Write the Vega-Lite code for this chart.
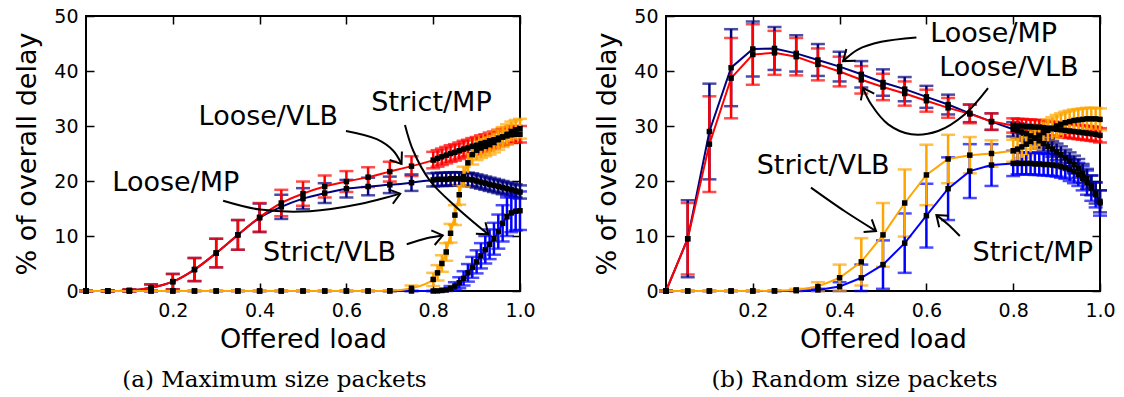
{
  "$schema": "https://vega.github.io/schema/vega-lite/v6.json",
  "background": "white",
  "padding": {"left": 12, "top": 6, "right": 5, "bottom": 5},
  "spacing": 55,
  "config": {
    "view": {"stroke": "black", "strokeWidth": 2},
    "font": "DejaVu Sans",
    "axis": {"grid": false, "domain": false, "tickColor": "black", "tickWidth": 1.5, "labelColor": "black", "titleColor": "black", "labelFont": "DejaVu Sans", "labelFontSize": 19, "titleFont": "DejaVu Sans", "titleFontSize": 27, "titleFontWeight": "normal", "labelFlush": false}
  },
  "datasets": {
    "a": [
      {"s":"Strict/MP","x":0,"y":0,"e":0},{"s":"Strict/MP","x":0.05,"y":0,"e":0},{"s":"Strict/MP","x":0.1,"y":0,"e":0},{"s":"Strict/MP","x":0.15,"y":0,"e":0},{"s":"Strict/MP","x":0.2,"y":0,"e":0},{"s":"Strict/MP","x":0.25,"y":0,"e":0},{"s":"Strict/MP","x":0.3,"y":0,"e":0},{"s":"Strict/MP","x":0.35,"y":0,"e":0},{"s":"Strict/MP","x":0.4,"y":0,"e":0},{"s":"Strict/MP","x":0.45,"y":0,"e":0},{"s":"Strict/MP","x":0.5,"y":0,"e":0},{"s":"Strict/MP","x":0.55,"y":0,"e":0},{"s":"Strict/MP","x":0.6,"y":0,"e":0},{"s":"Strict/MP","x":0.65,"y":0,"e":0},{"s":"Strict/MP","x":0.7,"y":0,"e":0},{"s":"Strict/MP","x":0.75,"y":0,"e":0},{"s":"Strict/MP","x":0.8,"y":0,"e":0},{"s":"Strict/MP","x":0.81,"y":0.02,"e":0.05},{"s":"Strict/MP","x":0.82,"y":0.1,"e":0.1},{"s":"Strict/MP","x":0.83,"y":0.2,"e":0.2},{"s":"Strict/MP","x":0.84,"y":0.5,"e":0.4},{"s":"Strict/MP","x":0.85,"y":0.9,"e":0.7},{"s":"Strict/MP","x":0.86,"y":1.5,"e":1.0},{"s":"Strict/MP","x":0.87,"y":2.3,"e":1.3},{"s":"Strict/MP","x":0.88,"y":3.3,"e":1.6},{"s":"Strict/MP","x":0.89,"y":4.3,"e":1.9},{"s":"Strict/MP","x":0.9,"y":5.3,"e":2.1},{"s":"Strict/MP","x":0.91,"y":6.4,"e":2.3},{"s":"Strict/MP","x":0.92,"y":7.5,"e":2.5},{"s":"Strict/MP","x":0.93,"y":8.5,"e":2.7},{"s":"Strict/MP","x":0.94,"y":9.5,"e":2.9},{"s":"Strict/MP","x":0.95,"y":10.8,"e":3.1},{"s":"Strict/MP","x":0.96,"y":12.3,"e":3.3},{"s":"Strict/MP","x":0.97,"y":13.5,"e":3.5},{"s":"Strict/MP","x":0.98,"y":14.2,"e":3.5},{"s":"Strict/MP","x":0.99,"y":14.5,"e":3.5},{"s":"Strict/MP","x":1,"y":14.6,"e":3.5},
      {"s":"Loose/MP","x":0,"y":0,"e":0},{"s":"Loose/MP","x":0.05,"y":0,"e":0.1},{"s":"Loose/MP","x":0.1,"y":0.1,"e":0.2},{"s":"Loose/MP","x":0.15,"y":0.6,"e":0.6},{"s":"Loose/MP","x":0.2,"y":1.7,"e":1.4},{"s":"Loose/MP","x":0.25,"y":3.9,"e":2.1},{"s":"Loose/MP","x":0.3,"y":6.9,"e":2.6},{"s":"Loose/MP","x":0.35,"y":10.2,"e":2.7},{"s":"Loose/MP","x":0.4,"y":13.3,"e":2.6},{"s":"Loose/MP","x":0.45,"y":15.3,"e":2.2},{"s":"Loose/MP","x":0.5,"y":16.8,"e":1.9},{"s":"Loose/MP","x":0.55,"y":17.8,"e":1.8},{"s":"Loose/MP","x":0.6,"y":18.6,"e":1.6},{"s":"Loose/MP","x":0.65,"y":19.0,"e":1.6},{"s":"Loose/MP","x":0.7,"y":19.3,"e":1.5},{"s":"Loose/MP","x":0.75,"y":19.7,"e":1.5},{"s":"Loose/MP","x":0.8,"y":20.2,"e":1.2},{"s":"Loose/MP","x":0.81,"y":20.3,"e":1.2},{"s":"Loose/MP","x":0.82,"y":20.3,"e":1.2},{"s":"Loose/MP","x":0.83,"y":20.3,"e":1.2},{"s":"Loose/MP","x":0.84,"y":20.4,"e":1.2},{"s":"Loose/MP","x":0.85,"y":20.4,"e":1.2},{"s":"Loose/MP","x":0.86,"y":20.4,"e":1.2},{"s":"Loose/MP","x":0.87,"y":20.3,"e":1.2},{"s":"Loose/MP","x":0.88,"y":20.3,"e":1.2},{"s":"Loose/MP","x":0.89,"y":20.2,"e":1.2},{"s":"Loose/MP","x":0.9,"y":20.0,"e":1.2},{"s":"Loose/MP","x":0.91,"y":19.8,"e":1.2},{"s":"Loose/MP","x":0.92,"y":19.6,"e":1.2},{"s":"Loose/MP","x":0.93,"y":19.4,"e":1.2},{"s":"Loose/MP","x":0.94,"y":19.2,"e":1.2},{"s":"Loose/MP","x":0.95,"y":19.0,"e":1.2},{"s":"Loose/MP","x":0.96,"y":18.8,"e":1.2},{"s":"Loose/MP","x":0.97,"y":18.6,"e":1.2},{"s":"Loose/MP","x":0.98,"y":18.4,"e":1.2},{"s":"Loose/MP","x":0.99,"y":18.2,"e":1.2},{"s":"Loose/MP","x":1,"y":18.0,"e":1.2},
      {"s":"Loose/VLB","x":0,"y":0,"e":0},{"s":"Loose/VLB","x":0.05,"y":0,"e":0.1},{"s":"Loose/VLB","x":0.1,"y":0.1,"e":0.2},{"s":"Loose/VLB","x":0.15,"y":0.6,"e":0.6},{"s":"Loose/VLB","x":0.2,"y":1.7,"e":1.4},{"s":"Loose/VLB","x":0.25,"y":3.9,"e":2.1},{"s":"Loose/VLB","x":0.3,"y":6.9,"e":2.6},{"s":"Loose/VLB","x":0.35,"y":10.2,"e":2.7},{"s":"Loose/VLB","x":0.4,"y":13.4,"e":2.6},{"s":"Loose/VLB","x":0.45,"y":16.0,"e":2.4},{"s":"Loose/VLB","x":0.5,"y":17.7,"e":2.2},{"s":"Loose/VLB","x":0.55,"y":19.0,"e":2.0},{"s":"Loose/VLB","x":0.6,"y":19.9,"e":1.9},{"s":"Loose/VLB","x":0.65,"y":20.7,"e":1.8},{"s":"Loose/VLB","x":0.7,"y":21.7,"e":1.8},{"s":"Loose/VLB","x":0.75,"y":22.7,"e":1.8},{"s":"Loose/VLB","x":0.8,"y":23.8,"e":1.5},{"s":"Loose/VLB","x":0.81,"y":24.1,"e":1.5},{"s":"Loose/VLB","x":0.82,"y":24.4,"e":1.5},{"s":"Loose/VLB","x":0.83,"y":24.7,"e":1.5},{"s":"Loose/VLB","x":0.84,"y":25.0,"e":1.5},{"s":"Loose/VLB","x":0.85,"y":25.2,"e":1.5},{"s":"Loose/VLB","x":0.86,"y":25.5,"e":1.5},{"s":"Loose/VLB","x":0.87,"y":25.8,"e":1.5},{"s":"Loose/VLB","x":0.88,"y":26.0,"e":1.5},{"s":"Loose/VLB","x":0.89,"y":26.3,"e":1.5},{"s":"Loose/VLB","x":0.9,"y":26.5,"e":1.5},{"s":"Loose/VLB","x":0.91,"y":26.8,"e":1.5},{"s":"Loose/VLB","x":0.92,"y":27.0,"e":1.5},{"s":"Loose/VLB","x":0.93,"y":27.3,"e":1.5},{"s":"Loose/VLB","x":0.94,"y":27.5,"e":1.5},{"s":"Loose/VLB","x":0.95,"y":27.8,"e":1.5},{"s":"Loose/VLB","x":0.96,"y":28.0,"e":1.5},{"s":"Loose/VLB","x":0.97,"y":28.2,"e":1.5},{"s":"Loose/VLB","x":0.98,"y":28.4,"e":1.5},{"s":"Loose/VLB","x":0.99,"y":28.5,"e":1.5},{"s":"Loose/VLB","x":1,"y":28.5,"e":1.5},
      {"s":"Strict/VLB","x":0,"y":0,"e":0},{"s":"Strict/VLB","x":0.05,"y":0,"e":0},{"s":"Strict/VLB","x":0.1,"y":0,"e":0},{"s":"Strict/VLB","x":0.15,"y":0,"e":0},{"s":"Strict/VLB","x":0.2,"y":0,"e":0},{"s":"Strict/VLB","x":0.25,"y":0,"e":0},{"s":"Strict/VLB","x":0.3,"y":0,"e":0},{"s":"Strict/VLB","x":0.35,"y":0,"e":0},{"s":"Strict/VLB","x":0.4,"y":0,"e":0},{"s":"Strict/VLB","x":0.45,"y":0,"e":0},{"s":"Strict/VLB","x":0.5,"y":0,"e":0},{"s":"Strict/VLB","x":0.55,"y":0,"e":0},{"s":"Strict/VLB","x":0.6,"y":0,"e":0},{"s":"Strict/VLB","x":0.65,"y":0,"e":0},{"s":"Strict/VLB","x":0.7,"y":0.05,"e":0.1},{"s":"Strict/VLB","x":0.75,"y":0.5,"e":0.5},{"s":"Strict/VLB","x":0.8,"y":2.1,"e":1.2},{"s":"Strict/VLB","x":0.81,"y":3.3,"e":1.4},{"s":"Strict/VLB","x":0.82,"y":5.0,"e":1.5},{"s":"Strict/VLB","x":0.83,"y":7.1,"e":1.6},{"s":"Strict/VLB","x":0.84,"y":10.5,"e":1.7},{"s":"Strict/VLB","x":0.85,"y":13.8,"e":1.8},{"s":"Strict/VLB","x":0.86,"y":17.5,"e":1.8},{"s":"Strict/VLB","x":0.87,"y":20.8,"e":1.8},{"s":"Strict/VLB","x":0.88,"y":23.3,"e":1.8},{"s":"Strict/VLB","x":0.89,"y":24.8,"e":1.8},{"s":"Strict/VLB","x":0.9,"y":25.6,"e":1.8},{"s":"Strict/VLB","x":0.91,"y":26.0,"e":1.8},{"s":"Strict/VLB","x":0.92,"y":26.3,"e":1.8},{"s":"Strict/VLB","x":0.93,"y":26.6,"e":1.8},{"s":"Strict/VLB","x":0.94,"y":27.0,"e":1.8},{"s":"Strict/VLB","x":0.95,"y":27.5,"e":1.8},{"s":"Strict/VLB","x":0.96,"y":28.0,"e":1.8},{"s":"Strict/VLB","x":0.97,"y":28.5,"e":1.8},{"s":"Strict/VLB","x":0.98,"y":29.0,"e":1.8},{"s":"Strict/VLB","x":0.99,"y":29.3,"e":1.8},{"s":"Strict/VLB","x":1,"y":29.5,"e":1.8}
    ],
    "b": [
      {"s":"Strict/MP","x":0,"y":0,"e":0},{"s":"Strict/MP","x":0.05,"y":0,"e":0},{"s":"Strict/MP","x":0.1,"y":0,"e":0},{"s":"Strict/MP","x":0.15,"y":0,"e":0},{"s":"Strict/MP","x":0.2,"y":0,"e":0},{"s":"Strict/MP","x":0.25,"y":0,"e":0},{"s":"Strict/MP","x":0.3,"y":0.05,"e":0.05},{"s":"Strict/MP","x":0.35,"y":0.2,"e":0.2},{"s":"Strict/MP","x":0.4,"y":0.8,"e":0.8},{"s":"Strict/MP","x":0.45,"y":2.4,"e":2.4},{"s":"Strict/MP","x":0.5,"y":4.8,"e":4.4},{"s":"Strict/MP","x":0.55,"y":8.7,"e":5.4},{"s":"Strict/MP","x":0.6,"y":13.7,"e":5.8},{"s":"Strict/MP","x":0.65,"y":18.6,"e":5.7},{"s":"Strict/MP","x":0.7,"y":21.8,"e":4.9},{"s":"Strict/MP","x":0.75,"y":22.9,"e":3.8},{"s":"Strict/MP","x":0.8,"y":23.2,"e":2.3},{"s":"Strict/MP","x":0.81,"y":23.2,"e":2.0},{"s":"Strict/MP","x":0.82,"y":23.2,"e":2.0},{"s":"Strict/MP","x":0.83,"y":23.2,"e":2.0},{"s":"Strict/MP","x":0.84,"y":23.2,"e":2.0},{"s":"Strict/MP","x":0.85,"y":23.1,"e":2.0},{"s":"Strict/MP","x":0.86,"y":23.1,"e":2.0},{"s":"Strict/MP","x":0.87,"y":23.0,"e":2.0},{"s":"Strict/MP","x":0.88,"y":23.0,"e":2.0},{"s":"Strict/MP","x":0.89,"y":22.9,"e":2.0},{"s":"Strict/MP","x":0.9,"y":22.8,"e":2.0},{"s":"Strict/MP","x":0.91,"y":22.6,"e":2.0},{"s":"Strict/MP","x":0.92,"y":22.4,"e":2.0},{"s":"Strict/MP","x":0.93,"y":22.1,"e":2.1},{"s":"Strict/MP","x":0.94,"y":21.7,"e":2.1},{"s":"Strict/MP","x":0.95,"y":21.2,"e":2.1},{"s":"Strict/MP","x":0.96,"y":20.5,"e":2.2},{"s":"Strict/MP","x":0.97,"y":19.7,"e":2.2},{"s":"Strict/MP","x":0.98,"y":18.7,"e":2.3},{"s":"Strict/MP","x":0.99,"y":17.5,"e":2.3},{"s":"Strict/MP","x":1,"y":16.0,"e":2.3},
      {"s":"Loose/MP","x":0,"y":0,"e":0},{"s":"Loose/MP","x":0.05,"y":9.5,"e":7.0},{"s":"Loose/MP","x":0.1,"y":29.0,"e":8.7},{"s":"Loose/MP","x":0.15,"y":40.6,"e":7.0},{"s":"Loose/MP","x":0.2,"y":44.0,"e":5.0},{"s":"Loose/MP","x":0.25,"y":44.1,"e":3.9},{"s":"Loose/MP","x":0.3,"y":43.2,"e":3.3},{"s":"Loose/MP","x":0.35,"y":42.0,"e":2.9},{"s":"Loose/MP","x":0.4,"y":40.8,"e":2.7},{"s":"Loose/MP","x":0.45,"y":39.4,"e":2.4},{"s":"Loose/MP","x":0.5,"y":37.9,"e":2.4},{"s":"Loose/MP","x":0.55,"y":36.7,"e":2.2},{"s":"Loose/MP","x":0.6,"y":35.3,"e":2.0},{"s":"Loose/MP","x":0.65,"y":33.9,"e":1.8},{"s":"Loose/MP","x":0.7,"y":32.3,"e":1.6},{"s":"Loose/MP","x":0.75,"y":30.8,"e":1.5},{"s":"Loose/MP","x":0.8,"y":29.4,"e":1.3},{"s":"Loose/MP","x":0.81,"y":29.2,"e":1.3},{"s":"Loose/MP","x":0.82,"y":28.9,"e":1.3},{"s":"Loose/MP","x":0.83,"y":28.6,"e":1.3},{"s":"Loose/MP","x":0.84,"y":28.2,"e":1.3},{"s":"Loose/MP","x":0.85,"y":27.8,"e":1.3},{"s":"Loose/MP","x":0.86,"y":27.3,"e":1.4},{"s":"Loose/MP","x":0.87,"y":26.8,"e":1.4},{"s":"Loose/MP","x":0.88,"y":26.3,"e":1.4},{"s":"Loose/MP","x":0.89,"y":25.8,"e":1.4},{"s":"Loose/MP","x":0.9,"y":25.3,"e":1.5},{"s":"Loose/MP","x":0.91,"y":24.8,"e":1.5},{"s":"Loose/MP","x":0.92,"y":24.2,"e":1.5},{"s":"Loose/MP","x":0.93,"y":23.6,"e":1.6},{"s":"Loose/MP","x":0.94,"y":23.0,"e":1.6},{"s":"Loose/MP","x":0.95,"y":22.3,"e":1.7},{"s":"Loose/MP","x":0.96,"y":21.4,"e":1.7},{"s":"Loose/MP","x":0.97,"y":20.4,"e":1.8},{"s":"Loose/MP","x":0.98,"y":19.2,"e":1.8},{"s":"Loose/MP","x":0.99,"y":17.8,"e":1.9},{"s":"Loose/MP","x":1,"y":16.3,"e":2.0},
      {"s":"Loose/VLB","x":0,"y":0,"e":0},{"s":"Loose/VLB","x":0.05,"y":9.5,"e":6.5},{"s":"Loose/VLB","x":0.1,"y":26.7,"e":8.7},{"s":"Loose/VLB","x":0.15,"y":38.7,"e":7.3},{"s":"Loose/VLB","x":0.2,"y":43.0,"e":5.5},{"s":"Loose/VLB","x":0.25,"y":43.3,"e":4.0},{"s":"Loose/VLB","x":0.3,"y":42.6,"e":3.4},{"s":"Loose/VLB","x":0.35,"y":41.2,"e":2.9},{"s":"Loose/VLB","x":0.4,"y":39.9,"e":2.7},{"s":"Loose/VLB","x":0.45,"y":38.4,"e":2.5},{"s":"Loose/VLB","x":0.5,"y":37.1,"e":2.4},{"s":"Loose/VLB","x":0.55,"y":35.9,"e":2.2},{"s":"Loose/VLB","x":0.6,"y":34.6,"e":2.0},{"s":"Loose/VLB","x":0.65,"y":33.3,"e":1.8},{"s":"Loose/VLB","x":0.7,"y":32.2,"e":1.7},{"s":"Loose/VLB","x":0.75,"y":30.8,"e":1.5},{"s":"Loose/VLB","x":0.8,"y":30.1,"e":1.3},{"s":"Loose/VLB","x":0.81,"y":30.0,"e":1.3},{"s":"Loose/VLB","x":0.82,"y":30.0,"e":1.3},{"s":"Loose/VLB","x":0.83,"y":29.9,"e":1.3},{"s":"Loose/VLB","x":0.84,"y":29.9,"e":1.3},{"s":"Loose/VLB","x":0.85,"y":29.8,"e":1.3},{"s":"Loose/VLB","x":0.86,"y":29.8,"e":1.3},{"s":"Loose/VLB","x":0.87,"y":29.7,"e":1.3},{"s":"Loose/VLB","x":0.88,"y":29.6,"e":1.3},{"s":"Loose/VLB","x":0.89,"y":29.5,"e":1.3},{"s":"Loose/VLB","x":0.9,"y":29.4,"e":1.3},{"s":"Loose/VLB","x":0.91,"y":29.3,"e":1.3},{"s":"Loose/VLB","x":0.92,"y":29.2,"e":1.3},{"s":"Loose/VLB","x":0.93,"y":29.1,"e":1.3},{"s":"Loose/VLB","x":0.94,"y":29.0,"e":1.3},{"s":"Loose/VLB","x":0.95,"y":28.9,"e":1.3},{"s":"Loose/VLB","x":0.96,"y":28.8,"e":1.3},{"s":"Loose/VLB","x":0.97,"y":28.7,"e":1.3},{"s":"Loose/VLB","x":0.98,"y":28.6,"e":1.3},{"s":"Loose/VLB","x":0.99,"y":28.5,"e":1.3},{"s":"Loose/VLB","x":1,"y":28.3,"e":1.3},
      {"s":"Strict/VLB","x":0,"y":0,"e":0},{"s":"Strict/VLB","x":0.05,"y":0,"e":0},{"s":"Strict/VLB","x":0.1,"y":0,"e":0},{"s":"Strict/VLB","x":0.15,"y":0,"e":0},{"s":"Strict/VLB","x":0.2,"y":0,"e":0},{"s":"Strict/VLB","x":0.25,"y":0.05,"e":0.05},{"s":"Strict/VLB","x":0.3,"y":0.2,"e":0.2},{"s":"Strict/VLB","x":0.35,"y":0.8,"e":0.8},{"s":"Strict/VLB","x":0.4,"y":2.4,"e":2.4},{"s":"Strict/VLB","x":0.45,"y":5.3,"e":4.3},{"s":"Strict/VLB","x":0.5,"y":10.2,"e":5.8},{"s":"Strict/VLB","x":0.55,"y":16.0,"e":6.1},{"s":"Strict/VLB","x":0.6,"y":21.1,"e":5.5},{"s":"Strict/VLB","x":0.65,"y":24.0,"e":4.4},{"s":"Strict/VLB","x":0.7,"y":24.7,"e":3.3},{"s":"Strict/VLB","x":0.75,"y":25.0,"e":2.4},{"s":"Strict/VLB","x":0.8,"y":25.5,"e":2.0},{"s":"Strict/VLB","x":0.81,"y":25.8,"e":2.0},{"s":"Strict/VLB","x":0.82,"y":26.2,"e":2.0},{"s":"Strict/VLB","x":0.83,"y":26.7,"e":2.0},{"s":"Strict/VLB","x":0.84,"y":27.2,"e":2.0},{"s":"Strict/VLB","x":0.85,"y":27.8,"e":2.0},{"s":"Strict/VLB","x":0.86,"y":28.3,"e":2.0},{"s":"Strict/VLB","x":0.87,"y":28.8,"e":2.0},{"s":"Strict/VLB","x":0.88,"y":29.2,"e":2.0},{"s":"Strict/VLB","x":0.89,"y":29.6,"e":2.0},{"s":"Strict/VLB","x":0.9,"y":30.0,"e":2.0},{"s":"Strict/VLB","x":0.91,"y":30.3,"e":2.0},{"s":"Strict/VLB","x":0.92,"y":30.6,"e":2.0},{"s":"Strict/VLB","x":0.93,"y":30.8,"e":2.0},{"s":"Strict/VLB","x":0.94,"y":31.0,"e":2.0},{"s":"Strict/VLB","x":0.95,"y":31.1,"e":2.0},{"s":"Strict/VLB","x":0.96,"y":31.2,"e":2.0},{"s":"Strict/VLB","x":0.97,"y":31.3,"e":2.0},{"s":"Strict/VLB","x":0.98,"y":31.3,"e":2.0},{"s":"Strict/VLB","x":0.99,"y":31.3,"e":2.0},{"s":"Strict/VLB","x":1,"y":31.2,"e":2.0}
    ],
    "txtA": [
      {"t":"Loose/VLB","x":0.42,"y":31.6},{"t":"Loose/MP","x":0.207,"y":19.7},{"t":"Strict/MP","x":0.796,"y":34.2},{"t":"Strict/VLB","x":0.561,"y":6.85}
    ],
    "txtB": [
      {"t":"Loose/MP","x":0.755,"y":46.7},{"t":"Loose/VLB","x":0.79,"y":40.6},{"t":"Strict/VLB","x":0.362,"y":22.7},{"t":"Strict/MP","x":0.845,"y":6.85}
    ],
    "arrA": [
      {"id":"1","i":0,"x":0.599,"y":29.1},{"id":"1","i":1,"x":0.67,"y":27.6},{"id":"1","i":2,"x":0.708,"y":25.5},{"id":"1","i":3,"x":0.727,"y":23.1},
      {"id":"2","i":0,"x":0.316,"y":16.4},{"id":"2","i":1,"x":0.401,"y":14.8},{"id":"2","i":2,"x":0.516,"y":14.5},{"id":"2","i":3,"x":0.631,"y":15.8},{"id":"2","i":4,"x":0.724,"y":17.7},
      {"id":"3","i":0,"x":0.735,"y":30.2},{"id":"3","i":1,"x":0.754,"y":25.5},{"id":"3","i":2,"x":0.793,"y":20.0},{"id":"3","i":3,"x":0.854,"y":15.2},{"id":"3","i":4,"x":0.927,"y":10.3},
      {"id":"4","i":0,"x":0.739,"y":8.5},{"id":"4","i":1,"x":0.785,"y":9.6},{"id":"4","i":2,"x":0.822,"y":10.1}
    ],
    "headA": [
      {"x":0.727,"y":23.1,"a":55},{"x":0.724,"y":17.7,"a":-17},{"x":0.927,"y":10.3,"a":40},{"x":0.822,"y":10.1,"a":-13}
    ],
    "arrB": [
      {"id":"1","i":0,"x":0.577,"y":46.1},{"id":"1","i":1,"x":0.496,"y":45.3},{"id":"1","i":2,"x":0.442,"y":43.9},{"id":"1","i":3,"x":0.408,"y":41.8},
      {"id":"2","i":0,"x":0.742,"y":36.9},{"id":"2","i":1,"x":0.688,"y":32.1},{"id":"2","i":2,"x":0.627,"y":29.1},{"id":"2","i":3,"x":0.565,"y":28.5},{"id":"2","i":4,"x":0.512,"y":30.3},{"id":"2","i":5,"x":0.473,"y":33.9},{"id":"2","i":6,"x":0.454,"y":36.9},
      {"id":"3","i":0,"x":0.334,"y":18.8},{"id":"3","i":1,"x":0.412,"y":14.5},{"id":"3","i":2,"x":0.484,"y":10.9},
      {"id":"4","i":0,"x":0.677,"y":10.0},{"id":"4","i":1,"x":0.65,"y":12.1},{"id":"4","i":2,"x":0.623,"y":13.8}
    ],
    "headB": [
      {"x":0.408,"y":41.8,"a":142},{"x":0.454,"y":36.9,"a":-117},{"x":0.484,"y":10.9,"a":33},{"x":0.623,"y":13.8,"a":-140}
    ]
  },
  "hconcat": [
    {
      "width": 434, "height": 275,
      "title": {"text": "(a) Maximum size packets", "orient": "bottom", "font": "DejaVu Serif", "fontSize": 23, "fontWeight": "normal", "anchor": "middle", "frame": "bounds", "offset": 17, "color": "black"},
      "layer": [
        {"data": {"name": "a"}, "mark": {"type": "errorbar", "ticks": true, "thickness": 2.5, "size": 14},
         "encoding": {
           "x": {"field": "x", "type": "quantitative", "scale": {"domain": [0, 1], "nice": false}, "axis": {"orient": "bottom", "title": "Offered load", "values": [0.2, 0.4, 0.6, 0.8, 1.0], "format": ".1f", "tickSize": -8, "labelPadding": 18, "titlePadding": 6}},
           "y": {"field": "y", "type": "quantitative", "scale": {"domain": [0, 50], "nice": false}, "axis": {"orient": "left", "title": "% of overall delay", "values": [0, 10, 20, 30, 40, 50], "tickSize": -8, "labelPadding": 16, "titlePadding": 12}},
           "yError": {"field": "e"},
           "color": {"field": "s", "type": "nominal", "scale": {"domain": ["Loose/MP", "Loose/VLB", "Strict/MP", "Strict/VLB"], "range": ["#000080", "#ff0000", "#0000ff", "#ffa500"]}, "legend": null}
         }},
        {"data": {"name": "a"}, "mark": {"type": "line", "strokeWidth": 2, "interpolate": "monotone"},
         "encoding": {
           "x": {"field": "x", "type": "quantitative", "axis": null},
           "y": {"field": "y", "type": "quantitative", "axis": null},
           "color": {"field": "s", "type": "nominal", "legend": null}
         }},
        {"data": {"name": "a"}, "mark": {"type": "square", "size": 30, "color": "black", "opacity": 1},
         "encoding": {
           "x": {"field": "x", "type": "quantitative", "axis": null},
           "y": {"field": "y", "type": "quantitative", "axis": null}
         }},
        {"data": {"name": "arrA"}, "mark": {"type": "line", "color": "black", "strokeWidth": 2, "interpolate": "catmull-rom"},
         "encoding": {
           "x": {"field": "x", "type": "quantitative", "axis": {"orient": "top", "labels": false, "title": null, "values": [0.2, 0.4, 0.6, 0.8, 1.0], "tickSize": -8}},
           "y": {"field": "y", "type": "quantitative", "axis": {"orient": "right", "labels": false, "title": null, "values": [0, 10, 20, 30, 40, 50], "tickSize": -8}},
           "detail": {"field": "id"},
           "order": {"field": "i", "type": "quantitative"}
         }},
        {"data": {"name": "headA"}, "mark": {"type": "point", "shape": "M-1,-0.75L0,0L-1,0.75", "filled": false, "stroke": "black", "strokeWidth": 2, "size": 400, "opacity": 1},
         "encoding": {
           "x": {"field": "x", "type": "quantitative", "axis": null},
           "y": {"field": "y", "type": "quantitative", "axis": null},
           "angle": {"field": "a", "type": "quantitative", "scale": null}
         }},
        {"data": {"name": "txtA"}, "mark": {"type": "text", "fontSize": 27, "font": "DejaVu Sans", "color": "black"},
         "encoding": {
           "x": {"field": "x", "type": "quantitative", "axis": null},
           "y": {"field": "y", "type": "quantitative", "axis": null},
           "text": {"field": "t"}
         }}
      ]
    },
    {
      "width": 434, "height": 275,
      "title": {"text": "(b) Random size packets", "orient": "bottom", "font": "DejaVu Serif", "fontSize": 23, "fontWeight": "normal", "anchor": "middle", "frame": "bounds", "offset": 17, "color": "black"},
      "layer": [
        {"data": {"name": "b"}, "mark": {"type": "errorbar", "ticks": true, "thickness": 2.5, "size": 14},
         "encoding": {
           "x": {"field": "x", "type": "quantitative", "scale": {"domain": [0, 1], "nice": false}, "axis": {"orient": "bottom", "title": "Offered load", "values": [0.2, 0.4, 0.6, 0.8, 1.0], "format": ".1f", "tickSize": -8, "labelPadding": 18, "titlePadding": 6}},
           "y": {"field": "y", "type": "quantitative", "scale": {"domain": [0, 50], "nice": false}, "axis": {"orient": "left", "title": "% of overall delay", "values": [0, 10, 20, 30, 40, 50], "tickSize": -8, "labelPadding": 16, "titlePadding": 12}},
           "yError": {"field": "e"},
           "color": {"field": "s", "type": "nominal", "scale": {"domain": ["Loose/MP", "Loose/VLB", "Strict/MP", "Strict/VLB"], "range": ["#000080", "#ff0000", "#0000ff", "#ffa500"]}, "legend": null}
         }},
        {"data": {"name": "b"}, "mark": {"type": "line", "strokeWidth": 2, "interpolate": "linear"},
         "encoding": {
           "x": {"field": "x", "type": "quantitative", "axis": null},
           "y": {"field": "y", "type": "quantitative", "axis": null},
           "color": {"field": "s", "type": "nominal", "legend": null}
         }},
        {"data": {"name": "b"}, "mark": {"type": "square", "size": 30, "color": "black", "opacity": 1},
         "encoding": {
           "x": {"field": "x", "type": "quantitative", "axis": null},
           "y": {"field": "y", "type": "quantitative", "axis": null}
         }},
        {"data": {"name": "arrB"}, "mark": {"type": "line", "color": "black", "strokeWidth": 2, "interpolate": "catmull-rom"},
         "encoding": {
           "x": {"field": "x", "type": "quantitative", "axis": {"orient": "top", "labels": false, "title": null, "values": [0.2, 0.4, 0.6, 0.8, 1.0], "tickSize": -8}},
           "y": {"field": "y", "type": "quantitative", "axis": {"orient": "right", "labels": false, "title": null, "values": [0, 10, 20, 30, 40, 50], "tickSize": -8}},
           "detail": {"field": "id"},
           "order": {"field": "i", "type": "quantitative"}
         }},
        {"data": {"name": "headB"}, "mark": {"type": "point", "shape": "M-1,-0.75L0,0L-1,0.75", "filled": false, "stroke": "black", "strokeWidth": 2, "size": 400, "opacity": 1},
         "encoding": {
           "x": {"field": "x", "type": "quantitative", "axis": null},
           "y": {"field": "y", "type": "quantitative", "axis": null},
           "angle": {"field": "a", "type": "quantitative", "scale": null}
         }},
        {"data": {"name": "txtB"}, "mark": {"type": "text", "fontSize": 27, "font": "DejaVu Sans", "color": "black"},
         "encoding": {
           "x": {"field": "x", "type": "quantitative", "axis": null},
           "y": {"field": "y", "type": "quantitative", "axis": null},
           "text": {"field": "t"}
         }}
      ]
    }
  ]
}
